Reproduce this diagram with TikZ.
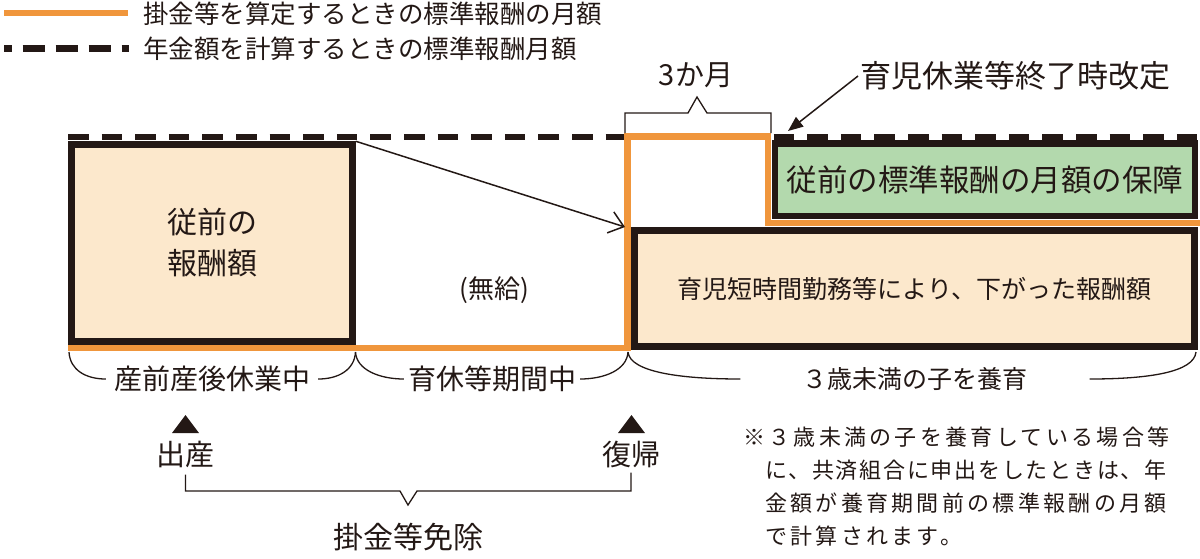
\documentclass[tikz,border=0pt]{standalone}
\usepackage{fontspec}
\setmainfont{Noto Sans CJK JP}
\newfontfamily\notefont[LetterSpace=15]{Noto Sans CJK JP}
\newfontfamily\notetight[LetterSpace=8]{Noto Sans CJK JP}
\usepackage{tikz}
\usetikzlibrary{arrows.meta, positioning, calc}
\definecolor{kInk}{HTML}{231815}
\definecolor{kOrange}{HTML}{F0963C}
\definecolor{kBeige}{HTML}{FCE8CC}
\definecolor{kGreen}{HTML}{B3D9AD}

\begin{document}
\begin{tikzpicture}[x=1pt, y=-1pt,
  every node/.style={text=kInk, inner sep=2pt},
  wall/.style={draw=kInk, line width=6.5pt, inner sep=0pt, align=center},
  paybox/.style={wall, fill=kBeige},
  keepbox/.style={wall, fill=kGreen},
  payline/.style={draw=kOrange, line width=6.5pt, line join=miter},
  stdline/.style={draw=kInk, line width=6.5pt, dash pattern=on 20.5pt off 13.1pt},
  brk/.style={draw=kInk, line width=1.3pt},
  keytext/.style={anchor=west, font=\fontsize{25.5}{30}\selectfont},
  span/.style={font=\fontsize{28}{32}\selectfont},
  event/.style={font=\fontsize{29}{34}\selectfont},
  notetext/.style={anchor=west, font=\notefont\fontsize{22}{26}\selectfont}
]
\useasboundingbox (0,0) rectangle (1200,558);

\draw[payline] (4,13) -- (128,13);
\node[keytext] (keyPay) at (141,14) {掛金等を算定するときの標準報酬の月額};
\draw[stdline, line width=7pt, dash pattern=on 22pt off 11pt, dash phase=14.5pt] (4,48) -- (129,48);
\node[keytext] (keyStd) at (141,49) {年金額を計算するときの標準報酬月額};

\draw[stdline] (68,137) -- (1200,137);

\node[paybox, minimum width=281pt, minimum height=197pt, font=\fontsize{30}{41}\selectfont]
  (prevPay) at (212,243) {従前の\\報酬額};
\node[keepbox, minimum width=420pt, minimum height=72.5pt, font=\fontsize{30.5}{36}\selectfont]
  (keepPay) at (985,179.75) {従前の標準報酬の月額の保障};
\node[paybox, minimum width=560pt, minimum height=116pt, font=\fontsize{25}{30}\selectfont]
  (shortPay) at (914.5,288.5) {育児短時間勤務等により、下がった報酬額};

\draw[payline] (68,348) -- (627.5,348) -- (627.5,136.5) -- (768,136.5) -- (768,223) -- (1200,223);

\node[font=\fontsize{26}{30}\selectfont] (unpaid) at (494,290) {(無給)};
\coordinate (ret) at (625,227);
\draw[brk, line width=1.5pt, -{Straight Barb[length=14pt,width=22pt]}] (prevPay.north east) -- (ret);

\node[event] (threeM) at (696,75) {3か月};
\draw[brk] (625,133) -- (625,113) -- (688,113) -- (697,97) -- (707,113) -- (771,113) -- (771,133);

\node[anchor=west, font=\fontsize{31}{36}\selectfont] (revise) at (858,76) {育児休業等終了時改定};
\coordinate (revisePt) at (788,131);
\draw[brk, line width=1.5pt, -{Triangle[length=15pt,width=12pt]}] (revise.west) -- (revisePt);

\coordinate (b0) at (69,352);
\coordinate (b1) at (355.5,352);
\coordinate (b2) at (628,352);
\coordinate (b3) at (1196,352);
\node[span, inner xsep=8pt] (preLeave) at (212,379) {産前産後休業中};
\node[span, inner xsep=4pt] (childLeave) at (492,379) {育休等期間中};
\node[font=\fontsize{25}{30}\selectfont, inner xsep=62pt] (childCare) at (915,379) {３歳未満の子を養育};
\draw[brk] (b0) .. controls +(1,18) and +(-20,0) .. (preLeave.west);
\draw[brk] (preLeave.east) .. controls +(20,0) and +(-1,18) .. (b1);
\draw[brk] (b1) .. controls +(1,18) and +(-24,0) .. (childLeave.west);
\draw[brk] (childLeave.east) .. controls +(24,0) and +(-1,18) .. (b2);
\draw[brk] (b2) .. controls +(2,20) and +(-60,0) .. (childCare.west);
\draw[brk] (childCare.east) .. controls +(60,0) and +(-2,20) .. (b3);

\node[event] (birth) at (185.5,454) {出産};
\node[event] (back) at (631,454) {復帰};
\fill[kInk] (185.5,415) -- (199,433) -- (172,433) -- cycle;
\fill[kInk] (631.5,415) -- (645,433) -- (618,433) -- cycle;
\draw[brk] ([yshift=-5pt]birth.south) |- (400,491) -- (408,505) -- (417,491) -| ([yshift=-3pt]back.south);
\node[font=\fontsize{30}{34}\selectfont] (exempt) at (408,537) {掛金等免除};

\node[notetext] (note1) at (741,437) {※３歳未満の子を養育している場合等};
\node[notetext, font=\notetight\fontsize{22}{26}\selectfont] (note2) at (763,470) {に、共済組合に申出をしたときは、年};
\node[notetext] (note3) at (763,503) {金額が養育期間前の標準報酬の月額};
\node[notetext] (note4) at (763,536) {で計算されます。};
\end{tikzpicture}
\end{document}
